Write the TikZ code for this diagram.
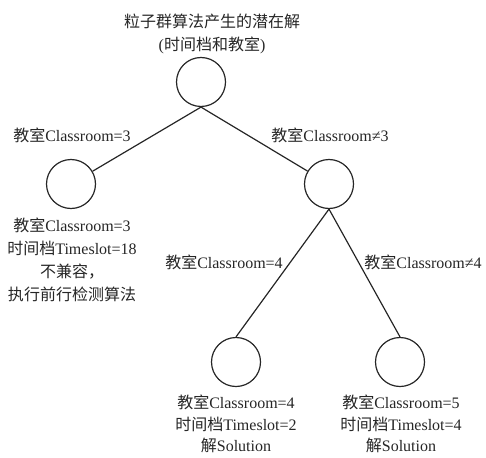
\documentclass[tikz,border=0pt]{standalone}
\usepackage{fontspec}
\setmainfont{Liberation Serif}
\newfontfamily\cjk{Noto Sans CJK SC}
\newcommand\zh[1]{{\cjk #1}}
\begin{document}
\begin{tikzpicture}[x=1pt,y=-1pt,
  circ/.style={draw=black!85,line width=1.2pt,circle,minimum size=49pt,inner sep=0pt},
  edge/.style={draw=black!85,line width=1.2pt},
  txt/.style={text=black!85,font=\fontsize{16}{23}\selectfont,align=center,inner sep=0pt}]
\useasboundingbox (0,0) rectangle (486,457);
\node[circ] (r) at (201,82) {};
\node[circ] (a) at (71,184) {};
\node[circ] (b) at (329,184) {};
\node[circ] (c) at (236,362) {};
\node[circ] (d) at (400,362) {};
\draw[edge] (r.south) -- (a);
\draw[edge] (r.south) -- (b);
\draw[edge] (b.south) -- (c.north);
\draw[edge] (b.south) -- (d.north);
\node[txt] (t0) at (212,34) {\zh{粒子群算法产生的潜在解}\\(\zh{时间档和教室})};
\node[txt] (l1) at (72,135) {\zh{教室}Classroom=3};
\node[txt] (l2) at (330,135) {\zh{教室}Classroom≠3};
\node[txt] (la) at (72,260) {\zh{教室}Classroom=3\\\zh{时间档}Timeslot=18\\\zh{不兼容，}\\\zh{执行前行检测算法}};
\node[txt] (l3) at (224,262) {\zh{教室}Classroom=4};
\node[txt] (l4) at (423,262) {\zh{教室}Classroom≠4};
\node[txt,font=\fontsize{16}{21.5}\selectfont] (lc) at (236,424) {\zh{教室}Classroom=4\\\zh{时间档}Timeslot=2\\\zh{解}Solution};
\node[txt,font=\fontsize{16}{21.5}\selectfont] (ld) at (401,424) {\zh{教室}Classroom=5\\\zh{时间档}Timeslot=4\\\zh{解}Solution};
\end{tikzpicture}
\end{document}
